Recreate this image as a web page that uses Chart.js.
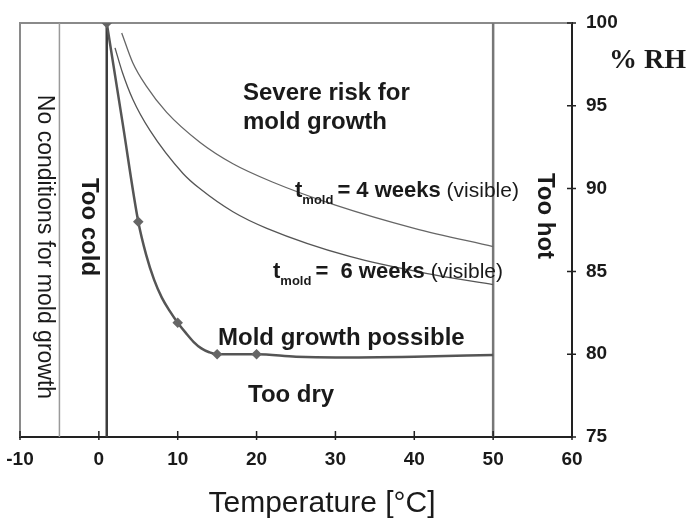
<!DOCTYPE html>
<html>
<head>
<meta charset="utf-8">
<script src="https://cdn.jsdelivr.net/npm/chart.js@4"></script>
<style>
  body { margin: 0; background: #fff; }
  #wrap { width: 691px; height: 522px; position: relative; }
</style>
</head>
<body>
<div id="wrap"><canvas id="moldChart"></canvas></div>
<script>
// axis ranges and ticks
const tempTicks = [-10, 0, 10, 20, 30, 40, 50, 60];
const rhTicks = [75, 80, 85, 90, 95, 100];

// lower limit for mold growth (markers at 1, 5, 10, 15, 20 degC)
const limitTemp = [1, 3, 5, 6, 7, 8, 9, 10, 11, 12, 13, 14, 15, 20, 25, 30, 40, 50];
const limitRH   = [100, 94, 88, 86.0, 84.5, 83.4, 82.6, 81.9, 81.3, 80.75, 80.35, 80.12, 80.0, 80.0, 79.85, 79.8, 79.85, 79.95];
const limitMarks = [1, 5, 10, 15, 20];

// t_mold = 4 weeks
const weeks4Temp = [2.9, 4.3, 6, 8.6, 12.8, 17, 22, 30, 40, 50];
const weeks4RH   = [99.4, 97.6, 96.2, 94.6, 92.8, 91.5, 90.4, 89.0, 87.6, 86.5];

// t_mold = 6 weeks
const weeks6Temp = [2.05, 3, 4.3, 6.5, 10.7, 12.8, 17, 21.3, 31.8, 42.4, 50];
const weeks6RH   = [98.5, 97.0, 95.4, 93.5, 90.9, 90.0, 88.6, 87.6, 85.9, 84.8, 84.2];

// vertical boundaries: no growth, too cold, too hot
const boundTemp = [-5, 1, 50];

const FONT = '"Liberation Sans", Arial, sans-serif';

function toPoints(xs, ys) {
  return xs.map((x, i) => ({ x: x, y: ys[i] }));
}

function vLine(t, color, width) {
  return {
    data: [{ x: t, y: rhTicks[0] }, { x: t, y: rhTicks[rhTicks.length - 1] }],
    borderColor: color,
    borderWidth: width,
    pointRadius: 0,
    tension: 0
  };
}

// frame, inner tick marks and all the text labels
const decorPlugin = {
  id: 'decor',
  beforeDatasetsDraw(chart) {
    const { ctx, chartArea: a } = chart;
    ctx.save();
    ctx.strokeStyle = '#8a8a8a';
    ctx.lineWidth = 2;
    ctx.beginPath();
    ctx.moveTo(a.left, a.bottom);
    ctx.lineTo(a.left, a.top);
    ctx.lineTo(a.right, a.top);
    ctx.stroke();
    ctx.restore();
  },
  afterDraw(chart) {
    const { ctx, chartArea: a, scales } = chart;
    const x = scales.x, y = scales.y;
    ctx.save();

    // tick marks crossing the axes
    ctx.strokeStyle = '#222';
    ctx.lineWidth = 1.5;
    ctx.beginPath();
    tempTicks.forEach(t => {
      const px = x.getPixelForValue(t);
      ctx.moveTo(px, a.bottom - 6);
      ctx.lineTo(px, a.bottom + 3);
    });
    rhTicks.forEach(v => {
      const py = y.getPixelForValue(v);
      ctx.moveTo(a.right - 5, py);
      ctx.lineTo(a.right + 4, py);
    });
    ctx.stroke();

    ctx.fillStyle = '#1a1a1a';

    // plain labels
    function label(text, px, py, font, align) {
      ctx.font = font;
      ctx.textAlign = align || 'left';
      ctx.textBaseline = 'alphabetic';
      ctx.fillText(text, px, py);
    }
    // rotated labels, reading top to bottom
    function vLabel(text, px, py, font) {
      ctx.save();
      ctx.translate(px, py);
      ctx.rotate(Math.PI / 2);
      ctx.font = font;
      ctx.textAlign = 'center';
      ctx.textBaseline = 'middle';
      ctx.fillText(text, 0, 0);
      ctx.restore();
    }
    // t_mold = N weeks (visible)
    function tMold(mid, px, py) {
      ctx.textAlign = 'left';
      ctx.textBaseline = 'alphabetic';
      ctx.font = 'bold 22px ' + FONT;
      ctx.fillText('t', px, py);
      px += ctx.measureText('t').width;
      ctx.font = 'bold 13px ' + FONT;
      ctx.fillText('mold', px, py + 7);
      px += ctx.measureText('mold').width + 4;
      ctx.font = 'bold 22px ' + FONT;
      ctx.fillText(mid, px, py);
      px += ctx.measureText(mid).width;
      ctx.font = '21px ' + FONT;
      ctx.fillText(' (visible)', px, py);
    }

    label('Severe risk for', 243, 100, 'bold 24px ' + FONT);
    label('mold growth', 243, 129, 'bold 24px ' + FONT);
    tMold('= 4 weeks', 295, 197);
    tMold('=  6 weeks', 273, 278);
    label('Mold growth possible', 218, 345, 'bold 24px ' + FONT);
    label('Too dry', 248, 402, 'bold 24px ' + FONT);

    vLabel('No conditions for mold growth', 44, 247, '23px ' + FONT);
    vLabel('Too cold', 89, 227, 'bold 24px ' + FONT);
    vLabel('Too hot', 545, 216, 'bold 24px ' + FONT);

    label('% RH', 609, 68, 'bold 28px "Liberation Serif", "Times New Roman", serif');
    label('Temperature [\u00B0C]', 322, 512, '30px ' + FONT, 'center');

    ctx.restore();
  }
};

const ctx = document.getElementById('moldChart').getContext('2d');

new Chart(ctx, {
  type: 'line',
  data: {
    datasets: [
      {
        data: toPoints(limitTemp, limitRH),
        borderColor: '#555',
        borderWidth: 2.5,
        cubicInterpolationMode: 'monotone',
        pointStyle: 'rectRot',
        pointRadius: limitTemp.map(t => limitMarks.includes(t) ? 3.5 : 0),
        pointBackgroundColor: '#666',
        pointBorderColor: '#666'
      },
      {
        data: toPoints(weeks4Temp, weeks4RH),
        borderColor: '#666',
        borderWidth: 1.3,
        cubicInterpolationMode: 'monotone',
        pointRadius: 0
      },
      {
        data: toPoints(weeks6Temp, weeks6RH),
        borderColor: '#555',
        borderWidth: 1.3,
        cubicInterpolationMode: 'monotone',
        pointRadius: 0
      },
      vLine(boundTemp[0], '#9a9a9a', 1.5),
      vLine(boundTemp[1], '#3c3c3c', 2.5),
      vLine(boundTemp[2], '#777', 2.5)
    ]
  },
  options: {
    responsive: true,
    maintainAspectRatio: false,
    animation: false,
    layout: { padding: { left: 20, top: 23, right: 0, bottom: 0 } },
    plugins: {
      legend: { display: false },
      tooltip: { enabled: false }
    },
    scales: {
      x: {
        type: 'linear',
        min: tempTicks[0],
        max: tempTicks[tempTicks.length - 1],
        afterBuildTicks: scale => { scale.ticks = tempTicks.map(v => ({ value: v })); },
        afterFit: scale => {
          scale.height = 85;
          scale.paddingLeft = 0;
          scale.paddingRight = 0;
        },
        grid: { display: false, drawTicks: false },
        border: { display: true, color: '#222', width: 2 },
        ticks: {
          padding: 11,
          color: '#1a1a1a',
          font: { family: FONT, size: 19, weight: 'bold' }
        }
      },
      y: {
        type: 'linear',
        position: 'right',
        min: rhTicks[0],
        max: rhTicks[rhTicks.length - 1],
        afterBuildTicks: scale => { scale.ticks = rhTicks.map(v => ({ value: v })); },
        afterFit: scale => {
          scale.width = 119;
          scale.paddingTop = 0;
          scale.paddingBottom = 0;
        },
        grid: { display: false, drawTicks: false },
        border: { display: true, color: '#222', width: 2 },
        ticks: {
          padding: 14,
          color: '#1a1a1a',
          font: { family: FONT, size: 19, weight: 'bold' }
        }
      }
    }
  },
  plugins: [decorPlugin]
});
</script>
</body>
</html>
